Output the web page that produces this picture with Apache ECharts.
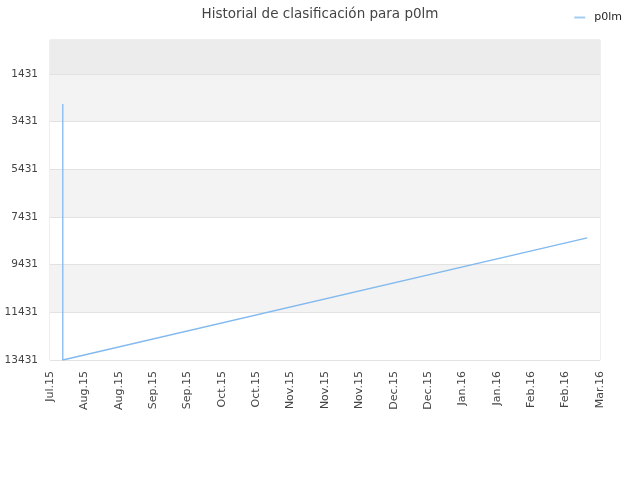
<!DOCTYPE html>
<html>
<head>
<meta charset="utf-8">
<script src="https://cdn.jsdelivr.net/npm/echarts@6/dist/echarts.min.js"></script>
<style>body{margin:0;background:#fff}#c{width:640px;height:480px}</style>
</head>
<body>
<div id="c"></div>
<script>
// ---------- datos ----------
const startDate = "2015-07-30";
const endDate = "2016-03-01";
const xLabels = ["Jul.15", "Aug.15", "Aug.15", "Sep.15", "Sep.15", "Oct.15", "Oct.15", "Nov.15",
  "Nov.15", "Nov.15", "Dec.15", "Dec.15", "Jan.16", "Jan.16", "Feb.16", "Feb.16", "Mar.16"];
const yTicks = [1431, 3431, 5431, 7431, 9431, 11431, 13431];
const rankDates = ["2015-08-04", "2015-08-04", "2016-02-25"];
const rankValues = [2681, 13431, 8306];
const seriesName = "p0lm";

const DAY = 86400000;
const t0 = Date.parse(startDate);
const span = (Date.parse(endDate) - t0) / DAY;
const step = span / (xLabels.length - 1);
const points = rankDates.map((d, i) => [(Date.parse(d) - t0) / DAY, rankValues[i]]);

const chart = echarts.init(document.getElementById("c"));
chart.setOption({
  animation: false,
  title: {
    text: "Historial de clasificación para " + seriesName,
    left: "center", top: 2,
    textStyle: { fontSize: 13.5, fontWeight: "normal", color: "#444", fontFamily: "DejaVu Sans" }
  },
  legend: {
    right: 13, top: 7,
    itemWidth: 11, itemHeight: 2,
    icon: "rect",
    textStyle: { fontSize: 11, color: "#222", fontFamily: "DejaVu Sans", padding: [0, 0, 0, 4] },
    data: [seriesName]
  },
  grid: {
    left: 50, right: 40, top: 40, bottom: 120,
    show: true, borderColor: "#dddddd", borderWidth: 1, backgroundColor: "#fff"
  },
  xAxis: {
    type: "value",
    min: 0, max: span, interval: step,
    axisLine: { show: false },
    axisTick: { show: false },
    splitLine: { show: false },
    axisLabel: {
      rotate: 90, fontSize: 11, color: "#444", fontFamily: "DejaVu Sans", margin: 11,
      formatter: v => xLabels[Math.round(v / step)] || ""
    }
  },
  yAxis: {
    type: "value",
    inverse: true,
    min: 0, max: 13431,
    axisLine: { show: false },
    axisTick: { show: false, customValues: yTicks },
    axisLabel: {
      customValues: yTicks, fontSize: 10.5, color: "#444", fontFamily: "DejaVu Sans", margin: 12,
      formatter: v => String(v)
    },
    splitLine: { show: true, lineStyle: { color: "#e2e2e2" } },
    splitArea: { show: true, areaStyle: { color: ["#f3f3f3", "#ffffff"] } }
  },
  series: [{
    name: seriesName,
    type: "line",
    data: points,
    symbol: "none",
    lineStyle: { color: "#82b9ee", width: 1.3 },
    itemStyle: { color: "#a3cdf3" },
    markArea: {
      silent: true,
      itemStyle: { color: "#ececec" },
      data: [[{ yAxis: 0 }, { yAxis: yTicks[0] }]]
    }
  }]
});
</script>
</body>
</html>
